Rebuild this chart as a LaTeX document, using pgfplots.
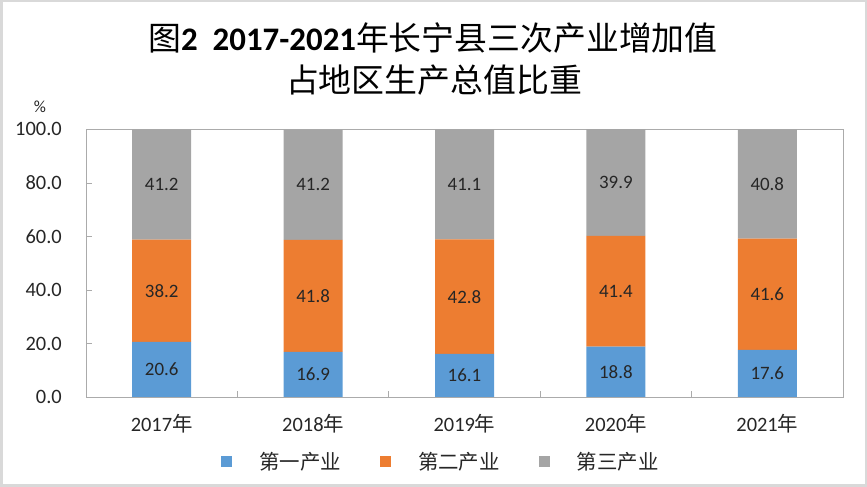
\documentclass[border=0pt]{standalone}
\usepackage{fontspec}
\setmainfont{Carlito}
\newfontfamily\cjk{Noto Sans CJK SC}
\usepackage{pgfplots}
\usepackage{pgfplotstable}
\pgfplotsset{compat=1.18}
\definecolor{c1}{HTML}{5B9BD5}
\definecolor{c2}{HTML}{ED7D31}
\definecolor{c3}{HTML}{A5A5A5}
\definecolor{axgray}{HTML}{ABABAB}
\definecolor{framegray}{HTML}{D9D9D9}
\definecolor{txt}{HTML}{262626}
\pgfplotstableread{
x a b c
0 20.6 38.2 41.2
1 16.9 41.8 41.2
2 16.1 42.8 41.1
3 18.8 41.4 39.9
4 17.6 41.6 40.8
}\data
\begin{document}
\begin{tikzpicture}[x=1bp,y=1bp]
\path[use as bounding box] (0,0) rectangle (867,487);
\draw[color=framegray, line width=2.5bp] (1.25,1.25) rectangle (865.75,485.75);
\node[font=\fontsize{33}{40}\selectfont, text=black, inner sep=0pt] at (433,449) {{\cjk 图}\textbf{2\ \ 2017-2021}{\cjk 年长宁县三次产业增加值}};
\node[font=\fontsize{33}{40}\selectfont, text=black, inner sep=0pt] at (434,407) {\cjk 占地区生产总值比重};
\node[font=\fontsize{17}{20}\selectfont, text=txt, inner sep=0pt] at (40,380) {\%};
\begin{axis}[
  at={(86bp,90bp)}, anchor=south west,
  scale only axis, width=757bp, height=268bp,
  ybar stacked, bar width=59bp,
  xmin=-0.5, xmax=4.5, ymin=0, ymax=100.15,
  xtick={-0.5,0.5,...,4.5}, xticklabel=\empty,
  extra x ticks={0,1,2,3,4},
  extra x tick labels={2017{\cjk 年},2018{\cjk 年},2019{\cjk 年},2020{\cjk 年},2021{\cjk 年}},
  extra x tick style={major tick length=0pt},
  ytick={0,20,...,100},
  xtick pos=bottom, ytick pos=left,
  tick align=inside, major tick length=6bp,
  axis line style={axgray, line width=0.8bp},
  every tick/.style={axgray, line width=0.8bp},
  /pgf/number format/assume math mode=true,
  tick label style={font=\fontsize{20.5}{24}\selectfont, text=txt, inner sep=0pt},
  yticklabel style={anchor=east, xshift=-24bp, /pgf/number format/fixed, /pgf/number format/fixed zerofill, /pgf/number format/precision=1},
  xticklabel style={anchor=center, yshift=-27bp},
  point meta=explicit,
  nodes near coords={\pgfmathprintnumber[fixed,fixed zerofill,precision=1]{\pgfplotspointmeta}},
  every node near coord/.append style={anchor=center, font=\fontsize{19}{23}\selectfont, text=txt},
  legend columns=3,
  legend style={at={(0.4676,-0.2425)}, anchor=center, draw=none, fill=none,
    font=\fontsize{20.5}{24}\selectfont, text=txt,
    nodes={inner sep=0pt},
    /tikz/every odd column/.append style={column sep=27bp},
    /tikz/every even column/.append style={column sep=39bp}},
  legend image code/.code={\fill[#1] (0bp,-5.5bp) rectangle (11bp,5.5bp);},
]
\addplot[fill=c1, draw=none] table[x=x, y=a, meta=a] {\data};
\addplot[fill=c2, draw=none] table[x=x, y=b, meta=b] {\data};
\addplot[fill=c3, draw=none] table[x=x, y=c, meta=c] {\data};
\legend{{\cjk 第一产业},{\cjk 第二产业},{\cjk 第三产业}}
\end{axis}
\end{tikzpicture}
\end{document}
